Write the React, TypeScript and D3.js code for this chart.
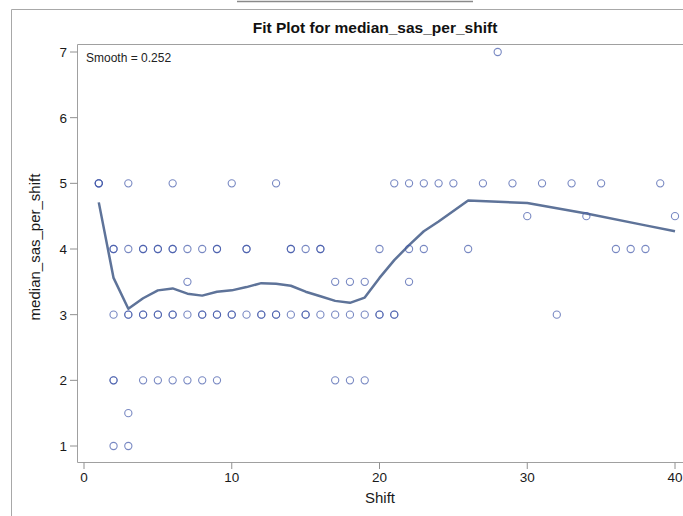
import { useEffect, useRef } from "react";
import * as d3 from "d3";

// observed points (duplicates kept so overlapping circles look darker)
const shiftX = [
  1, 1, 1, 3, 6, 10, 13, 21, 22, 23, 24, 25, 27, 29, 31, 33, 35, 39,
  28,
  30, 34, 40,
  2, 2, 3, 4, 4, 5, 5, 6, 6, 7, 8, 9, 9, 11, 11, 14, 14, 15, 16, 16, 20, 22, 23, 26, 36, 37, 38,
  7, 17, 18, 19, 22,
  2, 3, 3, 4, 4, 5, 5, 6, 6, 7, 8, 8, 9, 9, 10, 10, 11, 12, 12, 13, 13, 14, 15, 15, 16, 17, 18, 19, 20, 20, 21, 21, 32,
  2, 2, 4, 5, 6, 7, 8, 9, 17, 18, 19,
  3,
  2, 3,
];
const medianY = [
  5, 5, 5, 5, 5, 5, 5, 5, 5, 5, 5, 5, 5, 5, 5, 5, 5, 5,
  7,
  4.5, 4.5, 4.5,
  4, 4, 4, 4, 4, 4, 4, 4, 4, 4, 4, 4, 4, 4, 4, 4, 4, 4, 4, 4, 4, 4, 4, 4, 4, 4, 4,
  3.5, 3.5, 3.5, 3.5, 3.5,
  3, 3, 3, 3, 3, 3, 3, 3, 3, 3, 3, 3, 3, 3, 3, 3, 3, 3, 3, 3, 3, 3, 3, 3, 3, 3, 3, 3, 3, 3, 3, 3, 3,
  2, 2, 2, 2, 2, 2, 2, 2, 2, 2, 2,
  1.5,
  1, 1,
];

// loess fit
const fitX = [1, 2, 3, 4, 5, 6, 7, 8, 9, 10, 11, 12, 13, 14, 15, 16, 17, 18, 19, 20, 21, 22, 23, 24, 26, 30, 34, 38, 40];
const fitY = [4.71, 3.56, 3.09, 3.25, 3.37, 3.4, 3.32, 3.29, 3.35, 3.37, 3.42, 3.48, 3.47, 3.44, 3.35, 3.28, 3.21, 3.18, 3.26, 3.56, 3.83, 4.06, 4.27, 4.42, 4.74, 4.7, 4.54, 4.36, 4.27];

const xTicks = [0, 10, 20, 30, 40];
const yTicks = [1, 2, 3, 4, 5, 6, 7];

const App = () => {
  const svgRef = useRef(null);

  useEffect(() => {
    const svg = d3.select(svgRef.current);
    svg.selectAll("*").remove();

    const W = 683, H = 516;
    const left = 77.5, top = 44.5, bottom = 462.5, right = 690;
    const font = "'Liberation Sans', Arial, sans-serif";

    const x = d3.scaleLinear().domain([0, 40]).range([84, 675]);
    const y = d3.scaleLinear().domain([1, 7]).range([446, 52]);

    svg.append("rect").attr("width", W).attr("height", H).attr("fill", "#fff");

    // page frame
    svg.append("line").attr("x1", 237).attr("x2", 473).attr("y1", 1.5).attr("y2", 1.5)
      .attr("stroke", "#8a8a8a").attr("stroke-width", 1.5);
    svg.append("path").attr("d", `M11.5,${H} V9.5 H${W}`)
      .attr("fill", "none").attr("stroke", "#a8a8a8");

    svg.append("text").attr("x", 375).attr("y", 33).attr("text-anchor", "middle")
      .style("font-family", font).style("font-size", "15.5px").style("font-weight", "bold")
      .attr("fill", "#111").text("Fit Plot for median_sas_per_shift");

    // plot area border
    svg.append("path").attr("d", `M${right},${top} H${left} V${bottom} H${right}`)
      .attr("fill", "none").attr("stroke", "#a0a0a0");

    const yAxis = svg.append("g");
    yAxis.selectAll("line").data(yTicks).join("line")
      .attr("x1", 70).attr("x2", left).attr("y1", d => y(d)).attr("y2", d => y(d))
      .attr("stroke", "#909090");
    yAxis.selectAll("text").data(yTicks).join("text")
      .attr("x", 67).attr("y", d => y(d)).attr("dy", "0.36em").attr("text-anchor", "end")
      .style("font-family", font).style("font-size", "13.5px").attr("fill", "#1a1a1a")
      .text(d => d);

    const xAxis = svg.append("g");
    xAxis.selectAll("line").data(xTicks).join("line")
      .attr("x1", d => x(d)).attr("x2", d => x(d)).attr("y1", bottom).attr("y2", 469)
      .attr("stroke", "#909090");
    xAxis.selectAll("text").data(xTicks).join("text")
      .attr("x", d => x(d)).attr("y", 482).attr("text-anchor", "middle")
      .style("font-family", font).style("font-size", "13.5px").attr("fill", "#1a1a1a")
      .text(d => d);

    svg.append("text").attr("x", 380).attr("y", 503).attr("text-anchor", "middle")
      .style("font-family", font).style("font-size", "15px").attr("fill", "#1a1a1a").text("Shift");
    svg.append("text").attr("transform", `translate(40, 247) rotate(-90)`).attr("text-anchor", "middle")
      .style("font-family", font).style("font-size", "15px").attr("fill", "#1a1a1a")
      .text("median_sas_per_shift");

    svg.append("text").attr("x", 86).attr("y", 62)
      .style("font-family", font).style("font-size", "12px").attr("fill", "#222")
      .text("Smooth = 0.252");

    // fit line
    const line = d3.line<number>().x(d => x(d)).y((d, i) => y(fitY[i]));
    svg.append("path").datum(fitX).attr("d", line)
      .attr("fill", "none").attr("stroke", "#5e7399").attr("stroke-width", 2.5)
      .attr("stroke-linejoin", "round");

    svg.append("g").selectAll("circle").data(shiftX).join("circle")
      .attr("cx", d => x(d)).attr("cy", (d, i) => y(medianY[i])).attr("r", 3.6)
      .attr("fill", "none").attr("stroke", "#3f56a8").attr("stroke-opacity", 0.7)
      .attr("stroke-width", 1.1);
  }, []);

  return (
    <svg ref={svgRef} width={683} height={516}
      style={{ position: "absolute", left: 0, top: 0, display: "block" }} />
  );
};

export default App;
